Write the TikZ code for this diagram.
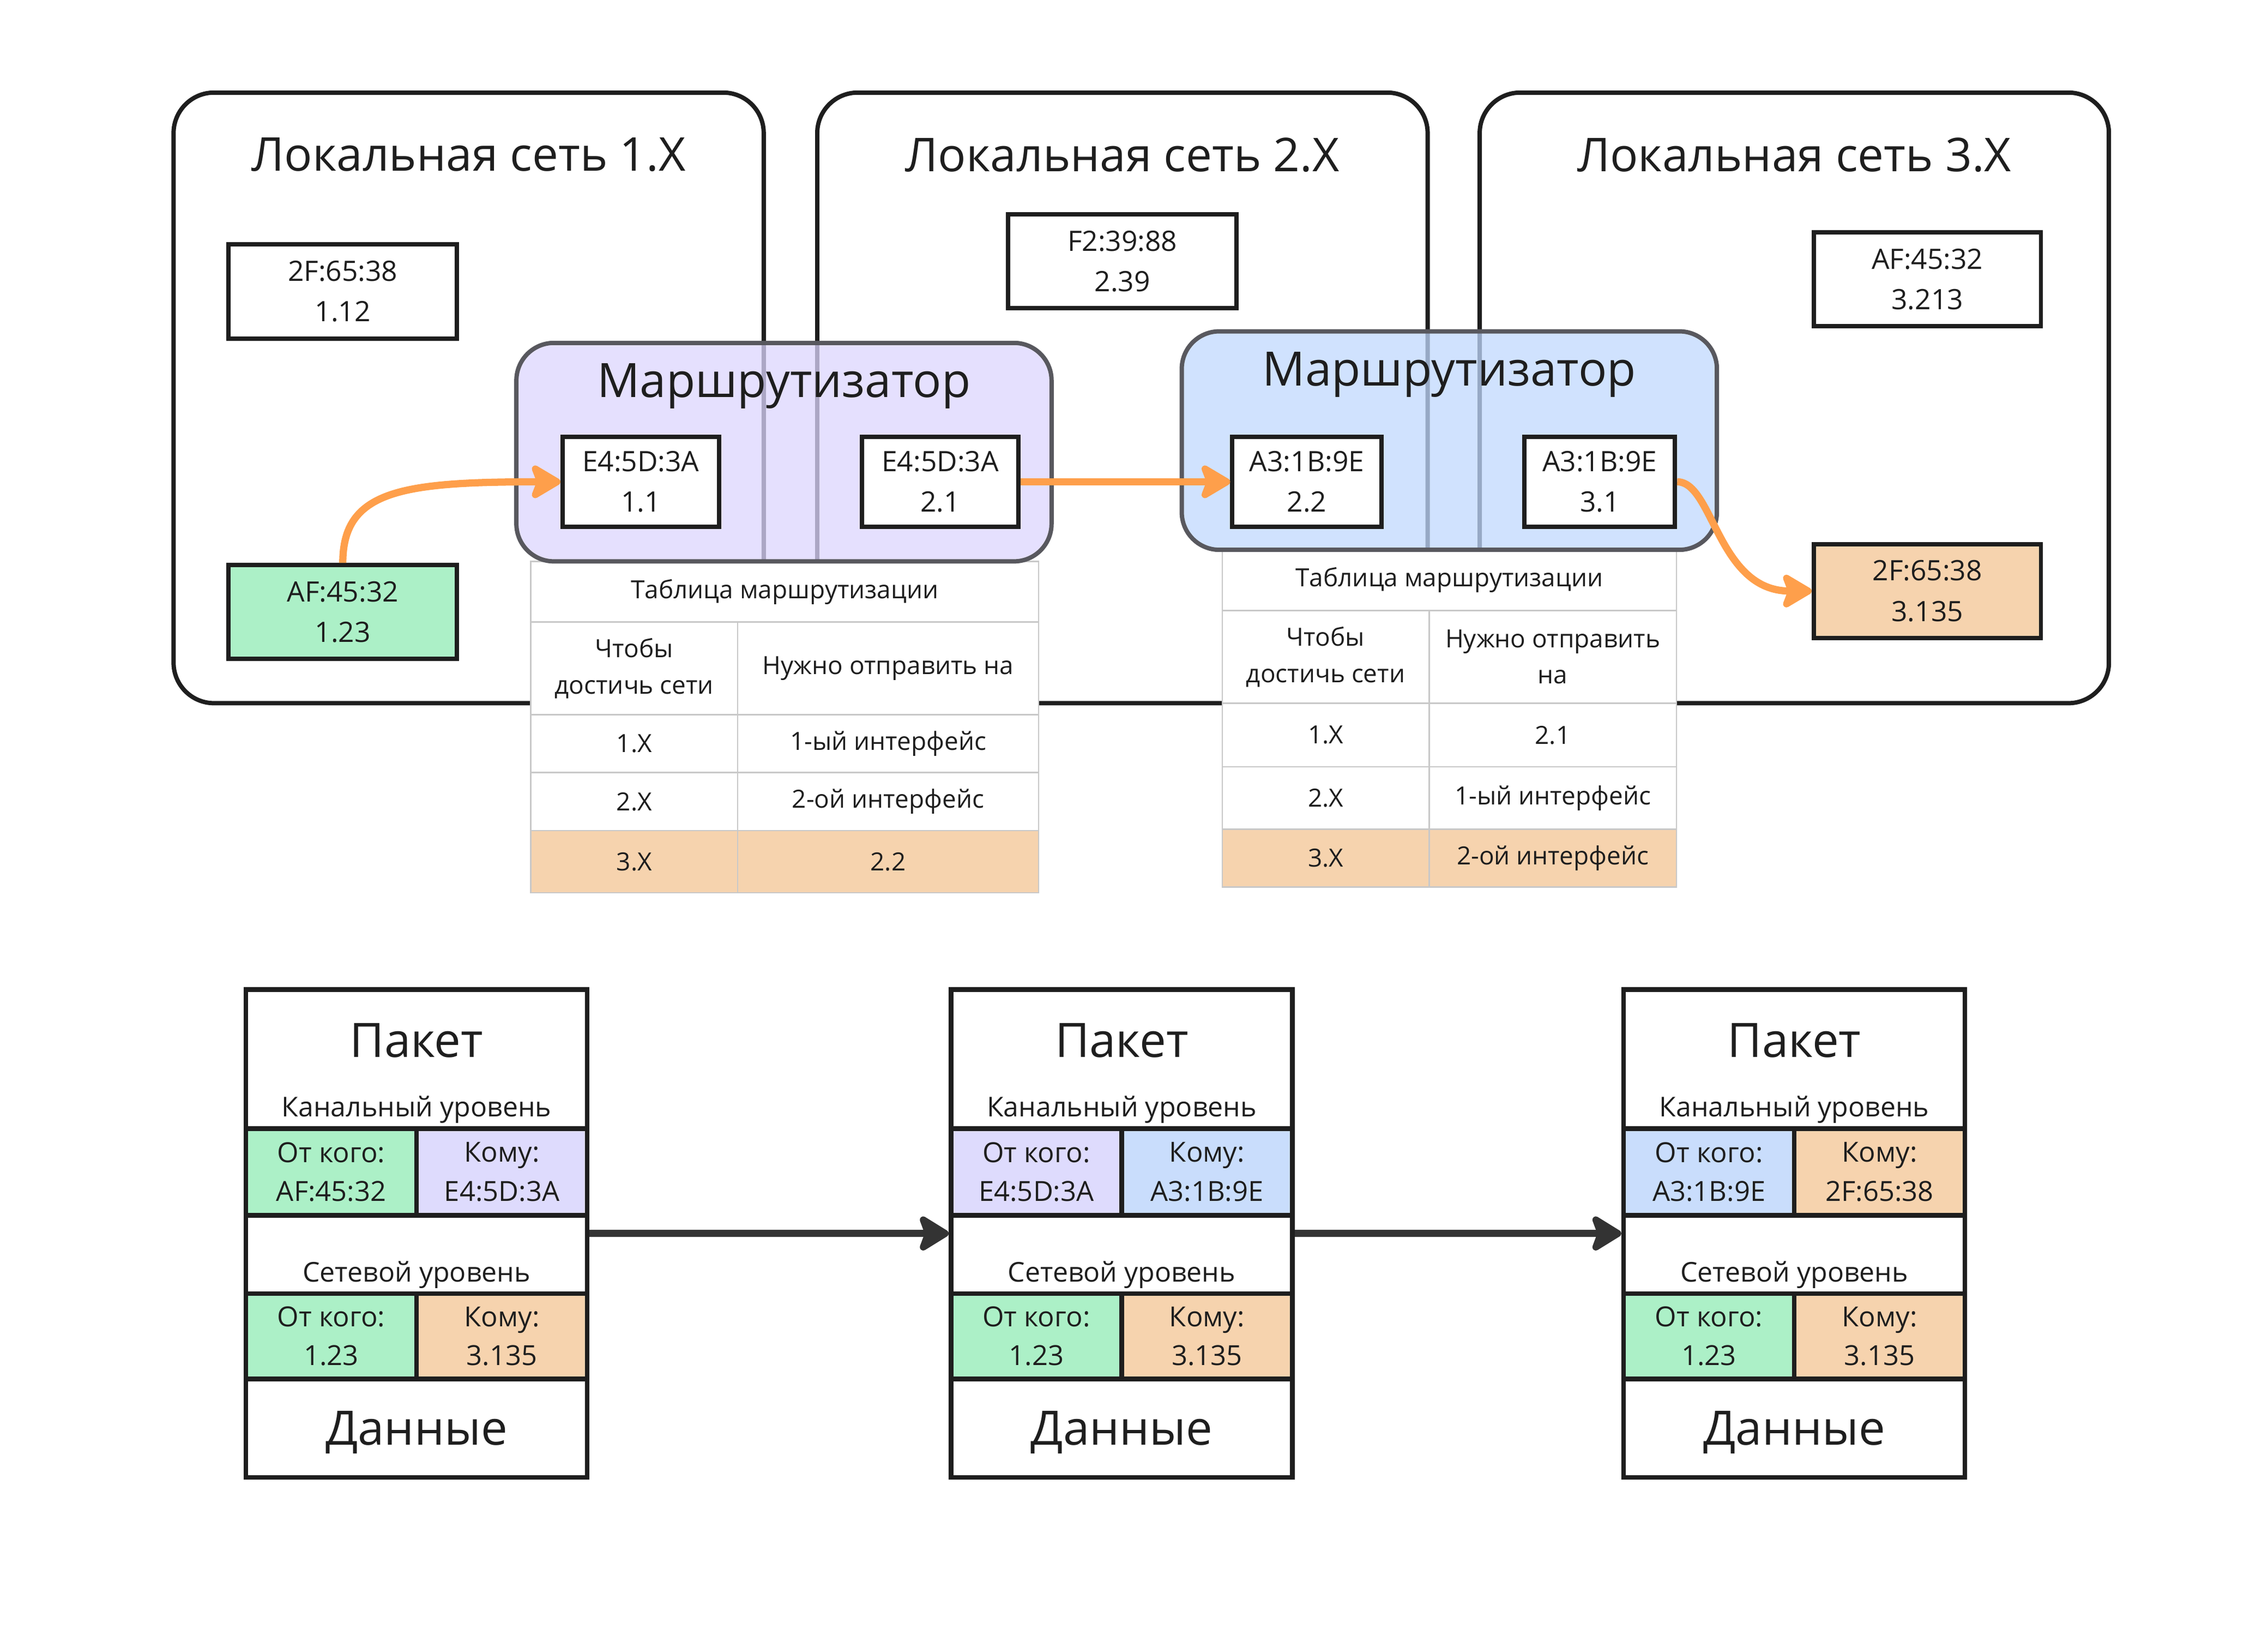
\documentclass[tikz,border=0pt]{standalone}
\usepackage{fontspec}
\setmainfont{Open Sans}
\usetikzlibrary{arrows.meta}

\newcommand{\un}{0.25mm}
\definecolor{ink}{HTML}{1E1E1E}
\definecolor{grn}{HTML}{ACF0C7}
\definecolor{lav}{HTML}{DEDBFD}
\definecolor{blu}{HTML}{C9DDFC}
\definecolor{org}{HTML}{F6D3AE}
\definecolor{arr}{HTML}{FE9F4B}
\definecolor{rtlav}{HTML}{DCD6FE}
\definecolor{rtblu}{HTML}{C0D8FE}
\definecolor{rim}{HTML}{58585E}
\definecolor{gridc}{HTML}{C8C8C8}
\definecolor{dark}{HTML}{333333}

\tikzset{
  lan/.style={draw=ink, line width=3*\un, rounded corners=28*\un, minimum height=422*\un, inner sep=0pt},
  lantitle/.style={font=\fontsize{22.9}{27}\selectfont, text=ink},
  host/.style={draw=ink, line width=3*\un, fill=white, minimum width=158*\un, minimum height=65*\un,
    inner sep=0pt, align=center, text=ink, font=\fontsize{13.8}{19.9}\selectfont},
  iface/.style={host, minimum height=62*\un},
  router/.style={draw=rim, line width=3*\un, rounded corners=26*\un, fill opacity=0.75,
    minimum width=370*\un, minimum height=151*\un},
  rtitle/.style={font=\fontsize{23.3}{28}\selectfont, text=ink},
  cell/.style={draw=gridc, line width=1*\un, fill=white, inner sep=0pt, align=center, text=ink,
    font=\fontsize{12.3}{17.8}\selectfont},
  packet/.style={draw=ink, line width=3.2*\un, fill=white, minimum width=236*\un, minimum height=337*\un},
  pktitle/.style={font=\fontsize{23.3}{28}\selectfont, text=ink},
  layer/.style={font=\fontsize{13.4}{16}\selectfont, text=ink},
  field/.style={draw=ink, line width=3.2*\un, minimum width=118*\un, inner sep=0pt, align=center,
    text=ink, font=\fontsize{13.6}{19.2}\selectfont},
  databox/.style={draw=ink, line width=3.2*\un, minimum width=236*\un, minimum height=68*\un,
    text depth=0pt, text=ink, font=\fontsize{23.3}{28}\selectfont},
  flow/.style={draw=arr, line width=5*\un, -{Stealth[length=6mm, width=7mm, inset=1.3mm, round]}},
  move/.style={draw=dark, line width=5*\un, -{Stealth[length=6mm, width=7.3mm, inset=1.3mm, round]}}
}

\begin{document}
\begin{tikzpicture}[x=\un, y=-\un]
\useasboundingbox (0,0) rectangle (1568,1138.3);

% Local networks
\node[lan, minimum width=408*\un] (lan1) at (324,275) {};
\node[lan, minimum width=422*\un] (lan2) at (776,275) {};
\node[lan, minimum width=435*\un] (lan3) at (1240.5,275) {};
\node[lantitle] (lan1t) at (324,107) {Локальная сеть 1.X};
\node[lantitle] (lan2t) at (776,107) {Локальная сеть 2.X};
\node[lantitle] (lan3t) at (1240.5,107) {Локальная сеть 3.X};

% Hosts
\node[host] (h112) at (237,201.5) {2F:65:38\\1.12};
\node[host, fill=grn] (h123) at (237,423) {AF:45:32\\1.23};
\node[host] (h239) at (776,180.5) {F2:39:88\\2.39};
\node[host, minimum width=157*\un] (h3213) at (1332.5,193) {AF:45:32\\3.213};
\node[host, minimum width=157*\un, fill=org] (h3135) at (1332.5,408.5) {2F:65:38\\3.135};

% Routing tables
\node[cell, minimum width=351*\un, minimum height=42*\un] (t1) at (542.5,409) {Таблица маршрутизации};
\node[cell, minimum width=143*\un, minimum height=64*\un] (t1ha) at (438.5,462) {Чтобы\\достичь сети};
\node[cell, minimum width=208*\un, minimum height=64*\un] (t1hb) at (614,462) {Нужно отправить на};
\foreach \y/\h/\a/\b/\c [count=\i] in {514/40/1.X/1-ый интерфейс/white, 554/40/2.X/2-ой интерфейс/white, 595.5/43/3.X/2.2/org}{
  \node[cell, fill=\c, minimum width=143*\un, minimum height=\h*\un] (t1a\i) at (438.5,\y) {\a};
  \node[cell, fill=\c, minimum width=208*\un, minimum height=\h*\un] (t1b\i) at (614,\y) {\b};
}

\node[cell, minimum width=314*\un, minimum height=42*\un] (t2) at (1002,401) {Таблица маршрутизации};
\node[cell, minimum width=143*\un, minimum height=64*\un] (t2ha) at (916.5,454) {Чтобы\\достичь сети};
\node[cell, minimum width=171*\un, minimum height=64*\un] (t2hb) at (1073.5,454) {Нужно отправить\\на};
\foreach \y/\h/\a/\b/\c [count=\i] in {508/44/1.X/2.1/white, 551.5/43/2.X/1-ый интерфейс/white, 593/40/3.X/2-ой интерфейс/org}{
  \node[cell, fill=\c, minimum width=143*\un, minimum height=\h*\un] (t2a\i) at (916.5,\y) {\a};
  \node[cell, fill=\c, minimum width=171*\un, minimum height=\h*\un] (t2b\i) at (1073.5,\y) {\b};
}

% Routers
\node[router, fill=rtlav] (r1) at (542,312.5) {};
\node[rtitle] (r1t) at (542,267) {Маршрутизатор};
\node[router, fill=rtblu] (r2) at (1002,304.5) {};
\node[rtitle] (r2t) at (1002,259) {Маршрутизатор};

\node[iface, minimum width=108*\un] (if11) at (443,333) {E4:5D:3A\\1.1};
\node[iface, minimum width=108*\un] (if21) at (650,333) {E4:5D:3A\\2.1};
\node[iface, minimum width=103*\un] (if22) at (903.5,333) {A3:1B:9E\\2.2};
\node[iface, minimum width=104*\un] (if31) at (1106,333) {A3:1B:9E\\3.1};

% Path of the packet
\draw[flow] (h123.north) .. controls +(0,-50) and +(-110,0) .. (if11.west);
\draw[flow] (if21.east) -- (if22.west);
\draw[flow] (if31.east) .. controls +(25,0) and +(-65,0) .. (h3135.west);

% Packets
\foreach \n/\x/\fa/\fc/\ta/\tc in {1/288/AF:45:32/grn/E4:5D:3A/lav, 2/775.5/E4:5D:3A/lav/A3:1B:9E/blu, 3/1240.5/A3:1B:9E/blu/2F:65:38/org}{
  \node[packet] (pk\n) at (\x,852.5) {};
  \node[pktitle] (pkt\n) at (\x,719) {Пакет};
  \node[layer] (pkl\n) at (\x,767) {Канальный уровень};
  \node[field, fill=\fc, minimum height=60*\un] (lf\n) at (\x-59,810) {От кого:\\\fa};
  \node[field, fill=\tc, minimum height=60*\un] (lt\n) at (\x+59,810) {Кому:\\\ta};
  \node[layer] (pkn\n) at (\x,881) {Сетевой уровень};
  \node[field, fill=grn, minimum height=59*\un] (nf\n) at (\x-59,923.5) {От кого:\\1.23};
  \node[field, fill=org, minimum height=59*\un] (nt\n) at (\x+59,923.5) {Кому:\\3.135};
  \node[databox] (pkd\n) at (\x,987) {Данные};
}

\draw[move] (pk1.east) -- (pk2.west);
\draw[move] (pk2.east) -- (pk3.west);
\end{tikzpicture}
\end{document}
